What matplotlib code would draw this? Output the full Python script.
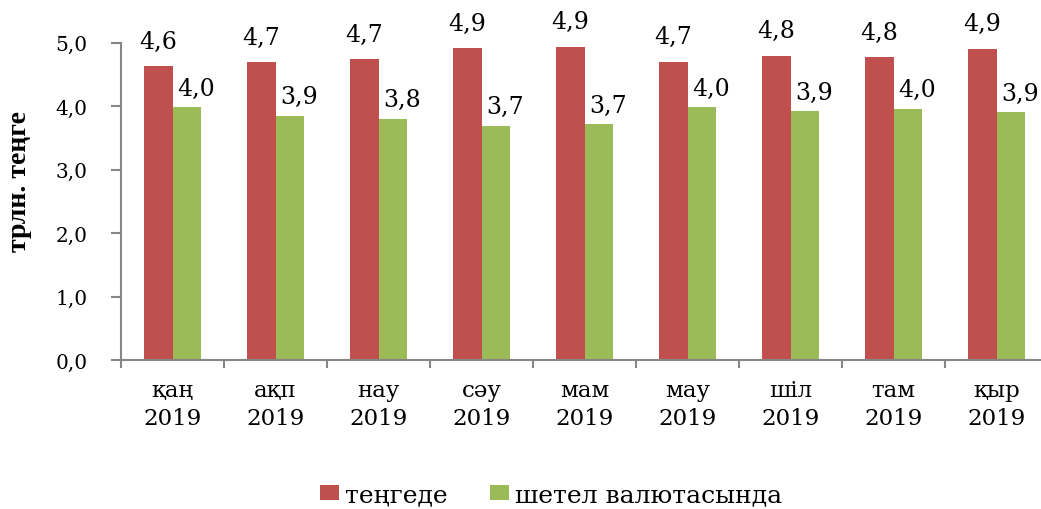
import numpy as np
import matplotlib.pyplot as plt
from matplotlib.ticker import FixedLocator, FuncFormatter

# Months (Kazakh abbreviations) and the two series, трлн. теңге
months = ["қаң", "ақп", "нау", "сәу", "мам", "мау", "шіл", "там", "қыр"]
year = "2019"
tenge = [4.63, 4.69, 4.74, 4.91, 4.93, 4.70, 4.79, 4.77, 4.90]
foreign = [3.98, 3.85, 3.80, 3.69, 3.71, 3.98, 3.92, 3.96, 3.90]
tenge_labels = ["4,6", "4,7", "4,7", "4,9", "4,9", "4,7", "4,8", "4,8", "4,9"]
foreign_labels = ["4,0", "3,9", "3,8", "3,7", "3,7", "4,0", "3,9", "4,0", "3,9"]

series_names = ["теңгеде", "шетел валютасында"]

# the source picture is stretched sideways, a wide serif fits it better
plt.rcParams['font.family'] = ['DejaVu Serif']

red = "#C0504D"
green = "#9BBB59"
grey = "#868686"

fig = plt.figure(figsize=(10.41, 5.10), dpi=100)
ax = fig.add_axes([121/1041, 1-361/510, 927/1041, (361-43.5)/510])

x = np.arange(len(months))
w = 0.28
b1 = ax.bar(x - w/2, tenge, w, color=red, label=series_names[0])
b2 = ax.bar(x + w/2, foreign, w, color=green, label=series_names[1])

for xi, v, lab in zip(x, tenge, tenge_labels):
    ax.annotate(lab, (xi - w/2, v), xytext=(0, 25), textcoords="offset pixels",
                ha="center", va="center", fontsize=17, clip_on=False)
for xi, v, lab in zip(x, foreign, foreign_labels):
    ax.annotate(lab, (xi + w/2, v), xytext=(9, 19), textcoords="offset pixels",
                ha="center", va="center", fontsize=17, clip_on=False)

ax.set_xlim(-0.5, len(months) - 0.5)
ax.set_ylim(0, 5)
ax.set_yticks(np.arange(0, 5.01, 1.0))
ax.yaxis.set_major_formatter(FuncFormatter(lambda v, p: f"{v:.1f}".replace(".", ",")))
ax.set_xticks(x)
ax.set_xticklabels([f"{m}\n{year}" for m in months], fontsize=16.5, linespacing=1.3)
ax.xaxis.set_minor_locator(FixedLocator(np.arange(-0.5, len(months), 1.0)))
ax.tick_params(axis="x", which="major", length=0, pad=14)
ax.tick_params(axis="x", which="minor", length=6, width=1.5, color=grey, direction="out")
ax.tick_params(axis="y", length=7, width=1.5, color=grey, direction="out", labelsize=14.5, pad=17)

for s in ["top", "right"]:
    ax.spines[s].set_visible(False)
for s in ["left", "bottom"]:
    ax.spines[s].set_color(grey)
    ax.spines[s].set_linewidth(1.5)

fig.text(20/1041, 1-181/510, "трлн. теңге", rotation=90, ha="center", va="center",
         fontsize=20, fontweight="bold", family="Liberation Serif")

fig.legend(handles=[b1, b2], labels=series_names, loc="center",
           bbox_to_anchor=(551/1041, 1-496/510), ncol=2, frameon=False,
           fontsize=18, handlelength=0.75, handleheight=0.55, handletextpad=0.25,
           columnspacing=1.7)

fig.savefig("out.png", dpi=100)
